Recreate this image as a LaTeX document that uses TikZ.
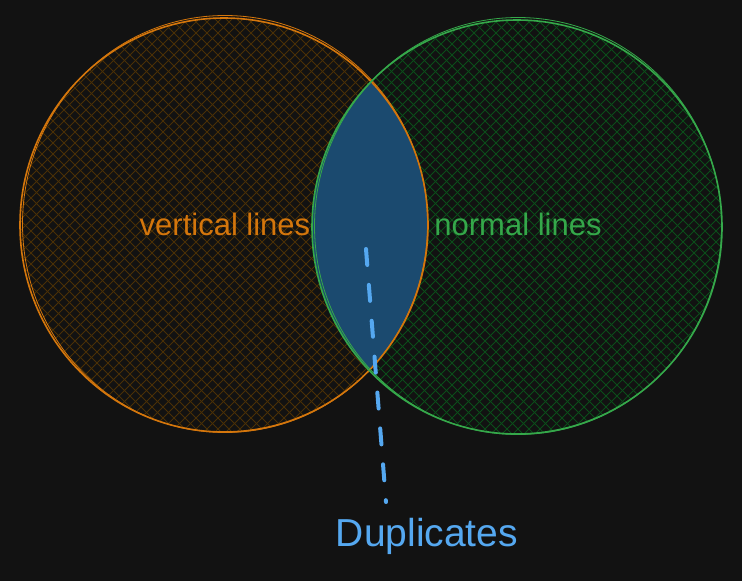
\documentclass[tikz,border=0pt]{standalone}
\usepackage{fontspec}
\setmainfont{Liberation Sans}
\definecolor{bg}{HTML}{121212}
\definecolor{ostroke}{HTML}{D4760C}
\definecolor{gstroke}{HTML}{35A84A}
\definecolor{ohatch}{HTML}{4A3006}
\definecolor{ghatch}{HTML}{0B4D1A}
\definecolor{lensfill}{HTML}{1B4A6F}
\definecolor{dupblue}{HTML}{55A8F0}
\begin{document}
\begin{tikzpicture}[x=1pt,y=-1pt,
  lbl/.style={inner sep=0pt, font=\fontsize{31}{36}\selectfont},
  hatchline/.style={line width=0.9pt},
  connector/.style={dupblue, line width=4pt, line cap=round, dash pattern=on 16pt off 20pt}]
\fill[bg] (0,0) rectangle (742,581);
\useasboundingbox (0,0) rectangle (742,581);
% orange hatch
\begin{scope}
  \clip (224,225) ellipse (204 and 207);
  \foreach \c in {-420,-409,...,440} {
    \draw[ohatch, hatchline] (\c,0) -- ++(460,460);
    \draw[ohatch, hatchline] (\c+440,0) -- ++(-460,460);
  }
\end{scope}
% green hatch
\begin{scope}
  \clip (517,227) ellipse (205 and 207);
  \foreach \c in {-120,-109,...,740} {
    \draw[ghatch, hatchline] (\c,0) -- ++(460,460);
    \draw[ghatch, hatchline] (\c+440,0) -- ++(-460,460);
  }
\end{scope}
% lens
\begin{scope}
  \clip (224,225) ellipse (204 and 207);
  \fill[lensfill] (517,227) ellipse (205 and 207);
\end{scope}
% strokes
\draw[ostroke, line width=1.6pt] (224,225) ellipse (204 and 207);
\draw[ostroke, line width=0.8pt] (225,224) ellipse (202.5 and 208.5);
\draw[gstroke, line width=1.6pt] (517,227) ellipse (205 and 207);
\draw[gstroke, line width=0.8pt] (518,226) ellipse (203.5 and 208.5);
% labels
\node[lbl, text=ostroke] (vl) at (225,224) {vertical lines};
\node[lbl, text=gstroke] (nl) at (518,224) {normal lines};
\node[inner sep=0pt, font=\fontsize{39}{44}\selectfont, text=dupblue] (dup) at (427,536) {Duplicates};
\coordinate (a) at (366,249);
\coordinate (b) at (386,502);
\draw[connector] (a) -- (b);
\end{tikzpicture}
\end{document}
